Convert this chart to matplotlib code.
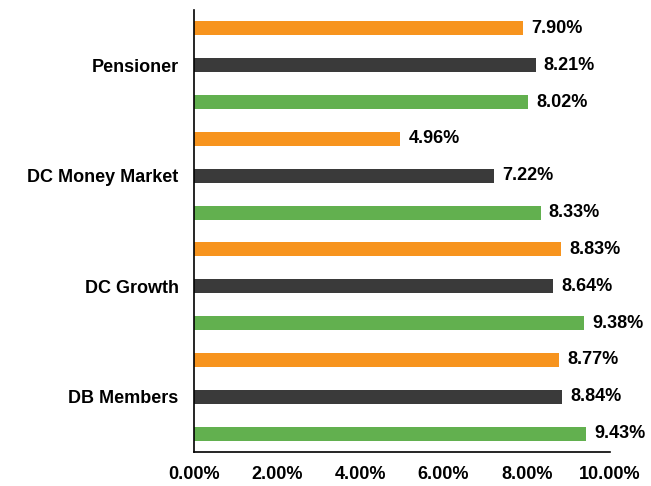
import matplotlib
matplotlib.use("Agg")
import matplotlib.pyplot as plt
import numpy as np

categories = ["DB Members", "DC Growth", "DC Money Market", "Pensioner"]
series_top = [8.77, 8.83, 4.96, 7.90]     # orange
series_mid = [8.84, 8.64, 7.22, 8.21]     # dark
series_bot = [9.43, 9.38, 8.33, 8.02]     # green
xticks = [0, 2, 4, 6, 8, 10]

colors = ["#F7941E", "#3A3A3A", "#62B04F"]

plt.rcParams['font.family'] = ['Liberation Sans', 'DejaVu Sans']
fig = plt.figure(figsize=(6.51, 4.86), dpi=100)
ax = fig.add_axes([194/651, 1-452/486, (610-194)/651, (452-10)/486])

fs = 13
y = np.arange(len(categories))
off = 1/3
h = 0.127
for vals, dy, c in [(series_top, off, colors[0]), (series_mid, 0, colors[1]), (series_bot, -off, colors[2])]:
    ax.barh(y + dy, vals, height=h, color=c)
    for yy, v in zip(y + dy, vals):
        ax.annotate(f"{v:.2f}%", (v, yy), xytext=(6, 0), textcoords="offset points",
                    va="center", ha="left", fontsize=fs, fontweight="bold")

ax.set_xlim(0, 10)
ax.set_ylim(-0.5, 3.5)
ax.set_xticks(xticks)
ax.set_xticklabels([f"{t:.2f}%" for t in xticks], fontsize=fs, fontweight="bold")
ax.set_yticks(y)
ax.set_yticklabels(categories, fontsize=fs, fontweight="bold")
ax.tick_params(axis="both", length=0)
ax.tick_params(axis="y", pad=11)
ax.tick_params(axis="x", pad=10)
for s in ["top", "right"]:
    ax.spines[s].set_visible(False)
ax.spines["left"].set_linewidth(1.2)
ax.spines["bottom"].set_linewidth(1.2)

fig.savefig("out.png", dpi=100)
